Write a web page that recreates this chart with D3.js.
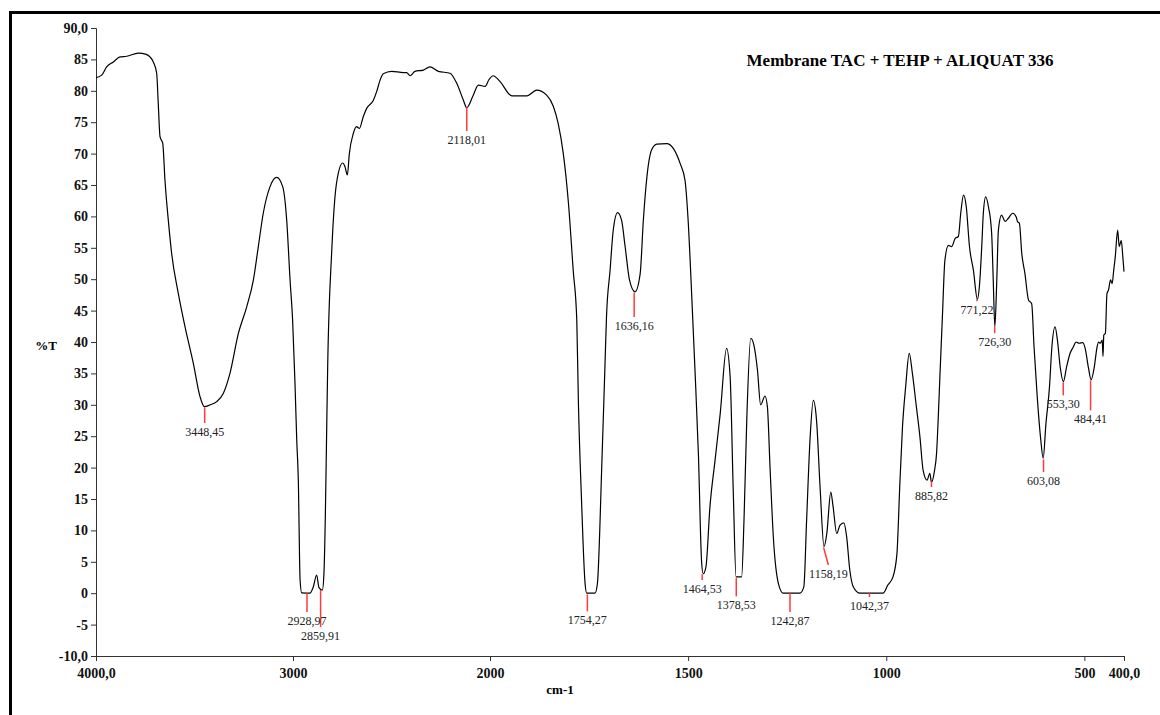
<!DOCTYPE html>
<html>
<head>
<meta charset="utf-8">
<script src="https://cdn.jsdelivr.net/npm/d3@7"></script>
<style>
  html, body { margin: 0; padding: 0; background: #fff; }
  svg { display: block; }
</style>
</head>
<body>
<svg id="chart" width="1160" height="715"></svg>
<script>
// ---- data ----
const wavenumber = [4000,3971,3946,3912,3878,3844,3785,3745,3726,3709,3692,3684,3675,3661,3650,3633,3616,3582,3548,3506,3472,3450,3420,3387,3354,3320,3277,3235,3201,3176,3151,3117,3083,3052,3032,3015,3002,2990,2981,2973,2964,2956,2914,2897,2880,2868,2851,2843,2836,2830,2824,2804,2787,2770,2748,2736,2724,2714,2694,2677,2663,2643,2626,2592,2575,2558,2542,2499,2440,2423,2406,2381,2338,2305,2262,2203,2169,2135,2118,2085,2059,2025,2005,1992,1975,1945,1907,1882,1857,1840,1828,1815,1802,1790,1781,1777,1769,1760,1756,1735,1729,1718,1710,1706,1697,1689,1678,1668,1659,1648,1634,1621,1613,1604,1592,1579,1554,1537,1520,1508,1500,1491,1483,1474,1466,1462,1455,1445,1432,1419,1403,1394,1386,1379,1365,1359,1352,1342,1334,1325,1317,1306,1300,1293,1285,1272,1260,1218,1208,1201,1192,1184,1176,1167,1157,1150,1140,1134,1125,1117,1107,1100,1092,1083,1066,1008,996,983,973,966,959,951,942,934,924,915,907,897,890,886,878,873,869,865,858,852,843,835,826,818,812,805,798,790,780,770,765,759,755,749,742,734,730,726,721,717,709,700,692,681,672,669,664,658,650,641,633,627,619,610,604,597,588,582,574,568,561,553,545,536,528,521,513,504,498,490,483,475,468,464,460,455,453,451,447,443,439,434,430,426,422,416,412,407,403,400];
const transmittance = [82.1,82.5,83.8,84.6,85.4,85.5,86.0,85.8,85.4,84.6,82.8,78.0,72.7,71.6,65.8,59.4,54.1,47.7,42.4,36.6,31.3,29.7,30.0,30.5,31.8,35.0,41.4,45.6,49.9,55.2,60.5,64.7,66.2,64.7,59.4,49.9,43.5,33.5,24.4,18.0,2.1,0.05,0,1.0,2.9,0.9,0.5,3.1,12,24,36,54.1,63.1,66.9,68.5,67.9,66.6,70.0,73.2,74.3,74.0,75.9,77.2,78.5,79.9,81.7,82.7,83.1,82.9,82.9,82.4,83.1,83.3,83.8,83.1,82.8,81.2,78.5,77.3,79.3,80.9,80.7,81.8,82.4,81.5,79.2,79.2,80.1,79.3,77.5,74.8,70.0,62.1,51.4,43.5,30.7,14.8,1.5,0,0,1.5,20.1,36,44,51.4,57.8,60.6,59.4,55.2,49.9,48.0,50.9,59.4,66.3,70.6,71.5,71.6,70.8,68.4,65.8,59.4,47.5,36.0,22,5,3.1,4.2,13.7,21.2,28.6,39.0,34.5,16,2.6,2.6,11.6,27.6,40.6,39.5,35.5,30,31.4,29.7,19.6,9.0,1.5,0,0,1,11.6,24.9,30.7,27.6,16.9,7.4,9.5,16.1,13.7,9.5,10.8,11.2,9.0,3.7,1.0,0,0,1.3,2.6,6.3,16.9,26.5,32.9,38.2,35.0,29.7,24.9,19.6,18.0,19.1,17.7,19.6,22.3,27.6,33.9,44.5,53.0,55.4,55.2,56.5,56.8,60.5,63.4,61.5,55.2,51.4,46.8,48.8,55.2,60.5,63.1,61.5,57.3,49.9,42.4,49.9,57.8,60.2,59.2,59.7,60.5,59.9,59.2,58.9,54.1,50.9,46.7,46.1,39.2,31.3,24.4,21.5,27.0,32.9,39.2,42.4,40.3,36.0,33.7,36.0,38.2,39.2,40.0,39.8,39.9,39.0,36.0,34.0,36.0,39.2,40.0,39.8,40.3,37.7,41.1,41.4,47.7,48.3,49.9,49.3,51.4,53.6,57.8,55.2,56.2,53.6,51.2];

const xTicks = [4000, 3000, 2000, 1500, 1000, 500, 400];
const xTickLabels = ["4000,0", "3000", "2000", "1500", "1000", "500", "400,0"];
const yTicks = [90,85,80,75,70,65,60,55,50,45,40,35,30,25,20,15,10,5,0,-5,-10];
const yTickLabels = ["90,0","85","80","75","70","65","60","55","50","45","40","35","30","25","20","15","10","5","0","-5","-10,0"];

// peak annotations: label, wavenumber at top, %T top, %T bottom, wavenumber at bottom
const peakLabels = ["3448,45","2118,01","2928,97","2859,91","1754,27","1636,16","1464,53","1378,53","1242,87","1158,19","1042,37","885,82","771,22","726,30","603,08","553,30","484,41"];
const peakWn     = [3448.45,2118.01,2928.97,2859.91,1754.27,1636.16,1464.53,1378.53,1242.87,1158.19,1042.37,885.82,771.22,726.30,603.08,553.30,484.41];
const peakTop    = [29.6,77.4,0,0.5,-0.2,47.9,3.0,2.4,0,7.3,0,17.8,46.8,42.4,21.3,33.6,33.9];
const peakBottom = [27.1,73.6,-3.0,-5.4,-2.9,44.0,2.1,-0.5,-3.0,4.5,-0.6,16.9,46.5,41.4,19.3,31.5,29.1];
const peakWnEnd  = [3448.45,2118.01,2928.97,2859.91,1754.27,1636.16,1464.53,1378.53,1242.87,1146,1042.37,885.82,771.22,726.30,603.08,553.30,484.41];

const title = "Membrane TAC + TEHP + ALIQUAT 336";
const xTitle = "cm-1";
const yTitle = "%T";

// ---- drawing ----
const svg = d3.select("#chart");
const serif = "'Liberation Serif', 'Times New Roman', serif";

// split-scale typical of FTIR spectra (expanded below 2000 cm-1)
const x = d3.scaleLinear().domain([4000, 2000, 400]).range([96, 490, 1124]);
const y = d3.scaleLinear().domain([-10, 90]).range([656, 28]);

// outer frame
svg.append("rect")
  .attr("x", 10.5).attr("y", 12.5)
  .attr("width", 1160).attr("height", 720)
  .attr("fill", "none").attr("stroke", "#000").attr("stroke-width", 3);

// y axis
const yAxis = d3.axisLeft(y).tickValues(yTicks)
  .tickFormat((d, i) => yTickLabels[i]).tickSize(5).tickPadding(3);
const gy = svg.append("g").attr("transform", "translate(96,0)").call(yAxis);
gy.select(".domain").attr("stroke", "#333");
gy.selectAll(".tick line").attr("stroke", "#333");
gy.selectAll("text").attr("font-family", serif).attr("font-weight", "bold")
  .attr("font-size", 14).attr("fill", "#111");

// x axis
const xAxis = d3.axisBottom(x).tickValues(xTicks)
  .tickFormat((d, i) => xTickLabels[i]).tickSize(5).tickPadding(7);
const gx = svg.append("g").attr("transform", "translate(0,656)").call(xAxis);
gx.select(".domain").attr("stroke", "#333");
gx.selectAll(".tick line").attr("stroke", "#333");
gx.selectAll("text").attr("font-family", serif).attr("font-weight", "bold")
  .attr("font-size", 14).attr("fill", "#111");

// axis titles
svg.append("text").attr("x", 560).attr("y", 694).attr("text-anchor", "middle")
  .attr("font-family", serif).attr("font-weight", "bold").attr("font-size", 13)
  .text(xTitle);
svg.append("text").attr("x", 46).attr("y", 350).attr("text-anchor", "middle")
  .attr("font-family", serif).attr("font-weight", "bold").attr("font-size", 13)
  .text(yTitle);

// chart title
svg.append("text").attr("x", 900).attr("y", 66).attr("text-anchor", "middle")
  .attr("font-family", serif).attr("font-weight", "bold").attr("font-size", 17)
  .text(title);

// spectrum
const pts = wavenumber.map((w, i) => [x(w), y(transmittance[i])]);
const line = d3.line().curve(d3.curveMonotoneX);
svg.append("path").attr("d", line(pts))
  .attr("fill", "none").attr("stroke", "#000").attr("stroke-width", 1.2);

// peak markers
const peaks = peakLabels.map((l, i) => ({l, w: peakWn[i], t: peakTop[i], b: peakBottom[i], we: peakWnEnd[i]}));
const gp = svg.append("g");
gp.selectAll("line").data(peaks).join("line")
  .attr("x1", d => x(d.w)).attr("y1", d => y(d.t))
  .attr("x2", d => x(d.we)).attr("y2", d => y(d.b))
  .attr("stroke", "#ff3b3b").attr("stroke-width", 1.5);
gp.selectAll("text").data(peaks).join("text")
  .attr("x", d => x(d.we)).attr("y", d => y(d.b) + 13)
  .attr("text-anchor", "middle")
  .attr("font-family", serif).attr("font-size", 12).attr("fill", "#222")
  .text(d => d.l);
</script>
</body>
</html>
